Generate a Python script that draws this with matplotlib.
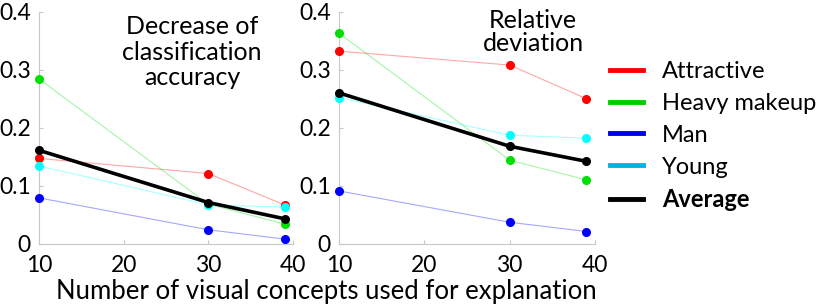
import matplotlib
matplotlib.use("Agg")
import matplotlib.pyplot as plt
from matplotlib.lines import Line2D

plt.rcParams['font.family'] = ['Lato', 'DejaVu Sans']

x = [10, 30, 39]
series = ["Attractive", "Heavy makeup", "Man", "Young", "Average"]
acc = {
    "Attractive": [0.147, 0.121, 0.067],
    "Heavy makeup": [0.284, 0.068, 0.034],
    "Man": [0.079, 0.024, 0.008],
    "Young": [0.134, 0.067, 0.063],
    "Average": [0.161, 0.071, 0.043],
}
dev = {
    "Attractive": [0.332, 0.308, 0.250],
    "Heavy makeup": [0.363, 0.144, 0.110],
    "Man": [0.091, 0.037, 0.021],
    "Young": [0.252, 0.187, 0.182],
    "Average": [0.260, 0.168, 0.142],
}
xticks = [10, 20, 30, 40]
yticks = [0, 0.1, 0.2, 0.3, 0.4]
ytick_labels = ["0", "0.1", "0.2", "0.3", "0.4"]
titles = ["Decrease of\nclassification\naccuracy", "Relative\ndeviation"]
xlabel = "Number of visual concepts used for explanation"

marker_colors = {"Attractive": "#ff0000", "Heavy makeup": "#00e000", "Man": "#0000ff",
                 "Young": "#00ffff", "Average": "#000000"}
legend_colors = {"Attractive": "#ff0000", "Heavy makeup": "#00cc00", "Man": "#0000ee",
                 "Young": "#00b0f0", "Average": "#000000"}

fig = plt.figure(figsize=(8.22, 3.04), dpi=100)
ax1 = fig.add_axes([39/822, 60.3/304, 254/822, 232/304])
ax2 = fig.add_axes([339/822, 60.3/304, 256/822, 232/304])

for ax, data in [(ax1, acc), (ax2, dev)]:
    for s in series:
        c = marker_colors[s]
        if s == "Average":
            ax.plot(x, data[s], color=c, lw=2.6, marker='o', ms=5.5, zorder=5, clip_on=False)
        else:
            ax.plot(x, data[s], color=c, lw=0.8, alpha=0.35, zorder=3, clip_on=False)
            ax.plot(x, data[s], ls='none', color=c, marker='o', ms=5.5, zorder=4, clip_on=False)
    ax.set_xlim(10, 40)
    ax.set_ylim(0, 0.4)
    ax.set_xticks(xticks)
    ax.set_yticks(yticks)
    ax.set_yticklabels(ytick_labels)
    for sp in ['top', 'right']:
        ax.spines[sp].set_visible(False)
    for sp in ['left', 'bottom']:
        ax.spines[sp].set_color('#c8c8c8')
        ax.spines[sp].set_linewidth(0.8)
    ax.tick_params(direction='in', length=3, color='#c8c8c8', labelsize=16.5)
    ax.tick_params(axis='x', pad=8)
    ax.tick_params(axis='y', pad=6)

fig.text(192/822, 1 - 52/304, titles[0], ha='center', va='center',
         fontsize=18, linespacing=1.12)
fig.text(533/822, 1 - 32/304, titles[1], ha='center', va='center',
         fontsize=18, linespacing=1.05)

fig.text(326/822, 1 - 292/304, xlabel, ha='center', va='center', fontsize=18.5)

handles = [Line2D([0], [0], color=legend_colors[s], lw=3.5) for s in series]
leg = fig.legend(handles, series, loc='upper left', bbox_to_anchor=(610/822, 1 - 61/304),
                 frameon=False, fontsize=17, handlelength=1.4, handletextpad=0.8,
                 labelspacing=0.46, borderpad=0, borderaxespad=0)
for t in leg.get_texts():
    if t.get_text() == "Average":
        t.set_fontweight('bold')

fig.savefig("out.png", dpi=100)
